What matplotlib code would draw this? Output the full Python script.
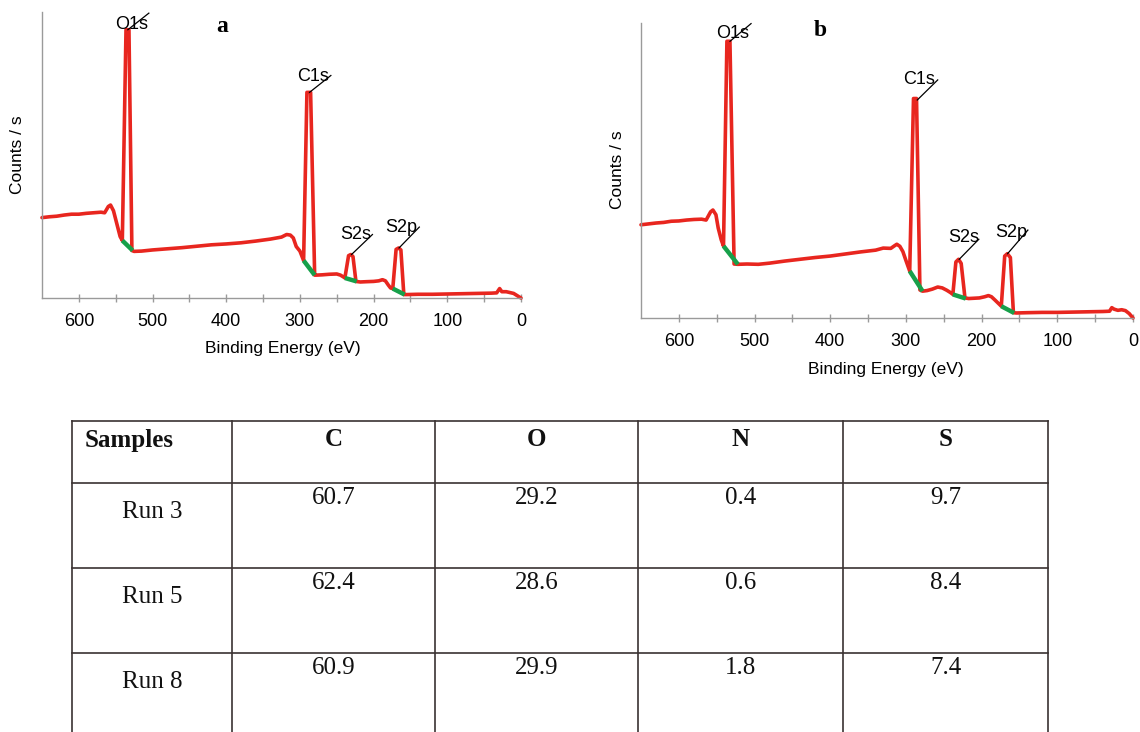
import matplotlib
matplotlib.use("Agg")
import matplotlib.pyplot as plt
from matplotlib.ticker import FixedLocator

# ---------------- data ----------------
# Panel a survey spectrum: binding energy (eV) and counts (arbitrary units, 0-100)
energy_a = [650, 640, 630, 620, 610, 600, 590, 580, 570, 565, 560, 557, 553, 548, 544, 541,
            536, 532, 528, 525, 515, 500, 480, 460, 440, 420, 400, 380, 360, 340, 325,
            318, 313, 309, 305, 300, 295, 290.5, 285.5, 280, 278, 270, 260, 250, 245, 240,
            239, 234, 231, 228, 224, 218, 210, 200, 193, 188, 184, 180, 177, 174,
            169.5, 166, 163, 159, 155, 140, 120, 100, 80, 60, 40, 33, 29, 26, 20, 15, 10, 5, 2, 0]
counts_a = [28.1, 28.4, 28.6, 29.0, 29.3, 29.3, 29.6, 29.8, 30.0, 29.8, 32.0, 32.5, 30.5, 25.5, 21.5, 20.1,
            93.8, 93.8, 16.6, 16.3, 16.4, 16.8, 17.2, 17.6, 18.1, 18.6, 18.9, 19.3, 19.9, 20.6, 21.3,
            22.2, 22.0, 21.0, 18.0, 16.4, 13.1, 71.9, 71.9, 8.0, 8.0, 8.1, 8.3, 8.4, 8.0, 7.2,
            7.0, 14.8, 15.2, 14.5, 5.8, 5.6, 5.7, 5.8, 6.0, 6.4, 6.0, 4.5, 3.5, 3.3,
            17.0, 17.5, 16.8, 1.2, 1.2, 1.3, 1.3, 1.4, 1.5, 1.6, 1.7, 1.8, 3.3, 2.2, 2.2, 1.9, 1.6, 0.8, 0.3, 0.0]
# background (green) segments: (e_start, e_end, y_start, y_end)
bg_a = [(541, 527, 20.1, 16.6), (295, 280, 13.1, 8.0), (239, 223, 7.0, 5.8), (174, 158, 3.3, 1.2)]

# Panel b survey spectrum
energy_b = [650, 640, 630, 620, 610, 600, 590, 580, 570, 564, 558, 555, 551, 548, 544, 541,
            536.5, 532.5, 527, 522, 510, 495, 480, 460, 440, 420, 400, 380, 360, 340, 330, 320,
            315, 312, 308, 304, 300, 295, 290, 286, 281.5, 278, 272, 265, 258, 252, 246, 241, 238,
            234, 230.5, 227, 222, 217, 210, 203, 196, 191, 187, 182, 178, 174,
            169.5, 166, 162, 158, 154, 140, 120, 100, 80, 60, 40, 31, 28, 25, 20, 15, 10, 5, 2, 0]
counts_b = [31.6, 31.9, 32.2, 32.4, 32.8, 32.9, 33.2, 33.4, 33.5, 33.2, 36.0, 36.6, 35.0, 30.5, 26.5, 24.4,
            93.8, 93.8, 18.3, 18.2, 18.3, 18.2, 18.6, 19.3, 19.9, 20.5, 21.0, 21.7, 22.4, 23.0, 23.7, 23.6,
            24.5, 25.0, 24.3, 22.5, 19.5, 15.9, 74.4, 74.4, 9.5, 9.1, 9.3, 9.8, 10.5, 10.2, 9.4, 8.6, 8.0,
            19.0, 19.9, 18.5, 6.8, 6.6, 6.7, 6.8, 7.2, 7.6, 7.2, 6.0, 5.0, 4.0,
            21.0, 21.8, 20.5, 1.8, 1.7, 1.8, 1.9, 1.9, 2.0, 2.1, 2.2, 2.3, 3.5, 3.0, 2.6, 2.8, 2.5, 1.5, 0.6, 0.0]
bg_b = [(541, 522, 24.4, 18.2), (295, 278, 15.9, 9.1), (238, 221, 8.0, 6.6), (174, 157, 4.0, 1.7)]

# Peak labels: name, leader start (peak top), leader end, text centre
peak_names = ["O1s", "C1s", "S2s", "S2p"]
lead_start_a = [(533.5, 93.8), (287, 71.9), (230, 15.2), (165.5, 17.5)]
lead_end_a = [(505, 99.6), (258, 77.8), (201.6, 22.2), (138, 24.8)]
text_pos_a = [(529, 95.8), (282, 77.4), (224, 22.2), (162, 24.6)]
lead_start_b = [(532.4, 93.8), (285, 73.9), (229.6, 19.9), (165.7, 21.8)]
lead_end_b = [(504.6, 99.8), (258, 80.7), (203.7, 26.7), (138.9, 29.8)]
text_pos_b = [(528.7, 96.6), (282, 80.7), (223.6, 27.3), (161, 29.0)]

xtick_values = [600, 500, 400, 300, 200, 100, 0]
xtick_minor = [550, 450, 350, 250, 150, 50]

# Table
table_columns = ["Samples", "C", "O", "N", "S"]
sample_names = ["Run 3", "Run 5", "Run 8"]
c_vals = ["60.7", "62.4", "60.9"]
o_vals = ["29.2", "28.6", "29.9"]
n_vals = ["0.4", "0.6", "1.8"]
s_vals = ["9.7", "8.4", "7.4"]

# ---------------- style ----------------
RED = "#e8261f"
GREEN = "#17a04a"
AXIS_GRAY = "#9a9a9a"
SANS = ["Liberation Sans", "DejaVu Sans"]
SERIF = ["Liberation Serif", "DejaVu Serif"]

W, H = 1140, 732
fig = plt.figure(figsize=(W / 100, H / 100), dpi=100)


def px_axes(x0, y0, x1, y1):
    return fig.add_axes([x0 / W, 1 - y1 / H, (x1 - x0) / W, (y1 - y0) / H])


def draw_panel(ax, energy, counts, bg, starts, ends, tpos, letter, letter_xy):
    ax.plot(energy, counts, color=RED, lw=2.6, solid_joinstyle="round",
            solid_capstyle="round", zorder=2, clip_on=False)
    for e0, e1, y0, y1 in bg:
        ax.plot([e0, e1], [y0, y1], color=GREEN, lw=3.2, solid_capstyle="butt", zorder=3)
    for name, s, e, t in zip(peak_names, starts, ends, tpos):
        ax.plot([s[0], e[0]], [s[1], e[1]], color="black", lw=0.9, zorder=4, clip_on=False)
        ax.text(t[0], t[1], name, ha="center", va="center", fontsize=13,
                family=SANS, zorder=5, clip_on=False)
    ax.set_xlim(650, 0)
    ax.set_ylim(0, 100)
    for sp in ["top", "right"]:
        ax.spines[sp].set_visible(False)
    for sp in ["left", "bottom"]:
        ax.spines[sp].set_color(AXIS_GRAY)
        ax.spines[sp].set_linewidth(1.0)
    ax.set_yticks([])
    ax.xaxis.set_major_locator(FixedLocator(xtick_values))
    ax.xaxis.set_minor_locator(FixedLocator(xtick_minor))
    ax.set_xticklabels([str(v) for v in xtick_values], fontsize=13, family=SANS)
    ax.tick_params(axis="x", which="both", direction="inout", length=6, width=1.0,
                   color=AXIS_GRAY, pad=8)
    ax.set_xlabel("Binding Energy (eV)", fontsize=12.5, family=SANS)
    ax.set_ylabel("Counts / s", fontsize=12.5, family=SANS)
    ax.text(letter_xy[0], letter_xy[1], letter, transform=ax.transAxes, ha="center",
            va="center", fontsize=17, fontweight="bold", family=SERIF)


ax_a = px_axes(42, 12, 521, 298)
draw_panel(ax_a, energy_a, counts_a, bg_a, lead_start_a, lead_end_a, text_pos_a,
           "a", ((222 - 42) / 479, (298 - 27) / 286))
ax_a.xaxis.set_label_coords((283 - 42) / 479, (298 - 349) / 286)
ax_a.xaxis.label.set_verticalalignment("center")
ax_a.yaxis.set_label_coords((18 - 42) / 479, (298 - 155) / 286)
ax_a.yaxis.label.set_verticalalignment("center")

ax_b = px_axes(641, 23, 1133, 318)
draw_panel(ax_b, energy_b, counts_b, bg_b, lead_start_b, lead_end_b, text_pos_b,
           "b", ((820 - 641) / 492, (318 - 30) / 295))
ax_b.xaxis.set_label_coords((886 - 641) / 492, (318 - 370) / 295)
ax_b.xaxis.label.set_verticalalignment("center")
ax_b.yaxis.set_label_coords((617 - 641) / 492, (318 - 170) / 295)
ax_b.yaxis.label.set_verticalalignment("center")

# ---------------- table ----------------
ax_t = px_axes(72, 421, 1048, 732)
ax_t.set_xlim(0, 976)
ax_t.set_ylim(311, 0)
ax_t.axis("off")
col_edges = [0, 160, 363, 566, 771, 976]
row_edges = [0, 62, 147, 232, 317]
LINE = "#3a3232"
for y in row_edges:
    ax_t.plot([0, 976], [y, y], color=LINE, lw=1.2, clip_on=False, solid_capstyle="projecting")
for x in col_edges:
    ax_t.plot([x, x], [0, 330], color=LINE, lw=1.2, clip_on=False, solid_capstyle="projecting")

col_centers = [(col_edges[i] + col_edges[i + 1]) / 2 for i in range(5)]
header_x = [57] + col_centers[1:]
for x, name in zip(header_x, table_columns):
    ax_t.text(x, 19, name, ha="center", va="center", fontsize=18, fontweight="bold",
              family=SERIF, color="#111111")
values = [c_vals, o_vals, n_vals, s_vals]
for r, sample in enumerate(sample_names):
    top = row_edges[r + 1]
    ax_t.text(col_centers[0], top + 29, sample, ha="center", va="center", fontsize=18,
              family=SERIF, color="#111111")
    for ci, col in enumerate(values):
        ax_t.text(col_centers[ci + 1], top + 15, col[r], ha="center", va="center",
                  fontsize=18, family=SERIF, color="#111111")

fig.savefig("out.png", dpi=100)
